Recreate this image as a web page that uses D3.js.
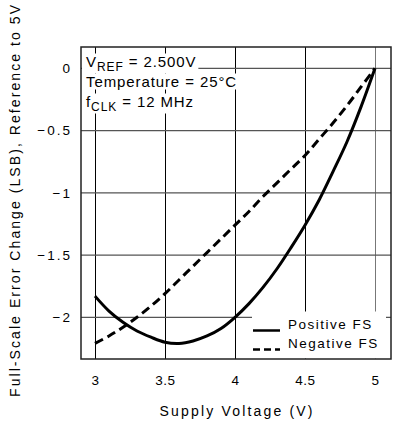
<!DOCTYPE html>
<html>
<head>
<meta charset="utf-8">
<script src="https://cdn.jsdelivr.net/npm/d3@7"></script>
<style>
  body { margin: 0; background: #fff; }
  text { font-family: "Liberation Sans", Arial, sans-serif; fill: #000; }
</style>
</head>
<body>
<div id="chart"></div>
<script>
// supply voltage (V)
var voltage = [3.0, 3.1, 3.2, 3.3, 3.4, 3.5, 3.6, 3.7, 3.8, 3.9, 4.0,
               4.1, 4.2, 4.3, 4.4, 4.5, 4.6, 4.7, 4.8, 4.9, 5.0];
// full-scale error change (LSB)
var positiveFS = [-1.83, -1.95, -2.04, -2.11, -2.16, -2.20, -2.21, -2.19, -2.15, -2.09, -2.00,
                  -1.89, -1.76, -1.61, -1.44, -1.26, -1.06, -0.83, -0.59, -0.31, 0];
var negativeFS = [-2.21, -2.15, -2.08, -2.00, -1.91, -1.81, -1.70, -1.59, -1.48, -1.37, -1.26,
                  -1.15, -1.03, -0.92, -0.81, -0.70, -0.57, -0.44, -0.30, -0.15, 0];
var xTicks = [3, 3.5, 4, 4.5, 5];
var yTicks = [0, -0.5, -1, -1.5, -2];
var seriesNames = ["Positive FS", "Negative FS"];

var width = 394, height = 428;
var box = {left: 81, top: 47, right: 391, bottom: 359};

var x = d3.scaleLinear().domain([3, 5]).range([95, 375]);
var y = d3.scaleLinear().domain([0, -2]).range([68.3, 317.3]);

var svg = d3.select("#chart").append("svg")
    .attr("width", width)
    .attr("height", height);

// grid
svg.append("g").selectAll("line")
    .data(xTicks)
    .enter().append("line")
    .attr("x1", function(d) { return Math.round(x(d)) + 0.5; })
    .attr("x2", function(d) { return Math.round(x(d)) + 0.5; })
    .attr("y1", box.top)
    .attr("y2", box.bottom)
    .attr("stroke", function(d) { return d == 5 ? "#777" : "#000"; })
    .attr("stroke-width", 1);

svg.append("g").selectAll("line")
    .data(yTicks)
    .enter().append("line")
    .attr("x1", box.left)
    .attr("x2", box.right)
    .attr("y1", function(d) { return y(d); })
    .attr("y2", function(d) { return y(d); })
    .attr("stroke", "#555")
    .attr("stroke-width", 1.3);

// curves
var line = d3.line()
    .x(function(d) { return x(d[0]); })
    .y(function(d) { return y(d[1]); })
    .curve(d3.curveCatmullRom);

svg.append("path")
    .datum(d3.zip(voltage, positiveFS))
    .attr("d", line)
    .attr("fill", "none")
    .attr("stroke", "#000")
    .attr("stroke-width", 3);

svg.append("path")
    .datum(d3.zip(voltage, negativeFS))
    .attr("d", line)
    .attr("fill", "none")
    .attr("stroke", "#000")
    .attr("stroke-width", 3)
    .attr("stroke-dasharray", "9,5");

// annotation, white behind each line of text
var notes = svg.append("g");
function addNote(yPos, parts) {
  var t = notes.append("text")
      .attr("x", 86)
      .attr("y", yPos)
      .attr("font-size", "15px")
      .attr("letter-spacing", "0.9px");
  parts.forEach(function(p) {
    t.append("tspan")
      .attr("dy", p.dy || 0)
      .attr("font-size", p.sub ? "12px" : null)
      .text(p.s);
  });
  var b = t.node().getBBox();
  notes.insert("rect", "text")
      .attr("x", b.x - 4)
      .attr("y", b.y + 1)
      .attr("width", b.width + 6)
      .attr("height", b.height - 1)
      .attr("fill", "#fff");
}
addNote(66.5, [{s: "V"}, {s: "REF", sub: true, dy: 4}, {s: " = 2.500V", dy: -4}]);
addNote(86.5, [{s: "Temperature = 25°C"}]);
addNote(106.5, [{s: "f"}, {s: "CLK", sub: true, dy: 4}, {s: " = 12 MHz", dy: -4}]);

// legend
var legend = svg.append("g");
legend.append("rect")
    .attr("x", 252)
    .attr("y", 311.5)
    .attr("width", 134)
    .attr("height", 47)
    .attr("fill", "#fff");

var legendItem = legend.selectAll("g.item")
    .data(seriesNames)
    .enter().append("g")
    .attr("class", "item")
    .attr("transform", function(d, i) { return "translate(0," + (i * 19) + ")"; });

legendItem.append("line")
    .attr("x1", 253)
    .attr("x2", 280)
    .attr("y1", 330.5)
    .attr("y2", 330.5)
    .attr("stroke", "#000")
    .attr("stroke-width", 2.5)
    .attr("stroke-dasharray", function(d, i) { return i == 0 ? null : "7,4"; });

legendItem.append("text")
    .attr("x", 288)
    .attr("y", 329)
    .attr("font-size", "13.5px")
    .attr("letter-spacing", "1.5px")
    .text(function(d) { return d; });

// box
svg.append("rect")
    .attr("x", box.left)
    .attr("y", box.top)
    .attr("width", box.right - box.left)
    .attr("height", box.bottom - box.top)
    .attr("fill", "none")
    .attr("stroke", "#222")
    .attr("stroke-width", 1.5);

// tick labels
svg.append("g")
    .attr("transform", "translate(0," + box.bottom + ")")
    .call(d3.axisBottom(x).tickValues(xTicks).tickSize(0).tickPadding(16)
      .tickFormat(d3.format("")))
    .call(function(g) { g.select(".domain").remove(); })
    .selectAll("text")
    .attr("font-size", "13.5px")
    .attr("letter-spacing", "0.5px");

svg.append("g")
    .attr("transform", "translate(72,0)")
    .call(d3.axisLeft(y).tickValues(yTicks).tickSize(0).tickPadding(0)
      .tickFormat(function(d) { return d == 0 ? "0" : d3.format("")(d); }))
    .call(function(g) { g.select(".domain").remove(); })
    .selectAll("text")
    .attr("font-size", "13.5px")
    .attr("letter-spacing", "2px");

svg.selectAll(".tick text").attr("fill", "#000").attr("font-family", null);

// axis titles
svg.append("text")
    .attr("x", 236)
    .attr("y", 416)
    .attr("text-anchor", "middle")
    .attr("font-size", "14px")
    .attr("textLength", 153)
    .attr("lengthAdjust", "spacing")
    .text("Supply Voltage (V)");

svg.append("text")
    .attr("transform", "translate(20,201) rotate(-90)")
    .attr("text-anchor", "middle")
    .attr("font-size", "14px")
    .attr("textLength", 392)
    .attr("lengthAdjust", "spacing")
    .text("Full-Scale Error Change (LSB), Reference to 5V");
</script>
</body>
</html>
